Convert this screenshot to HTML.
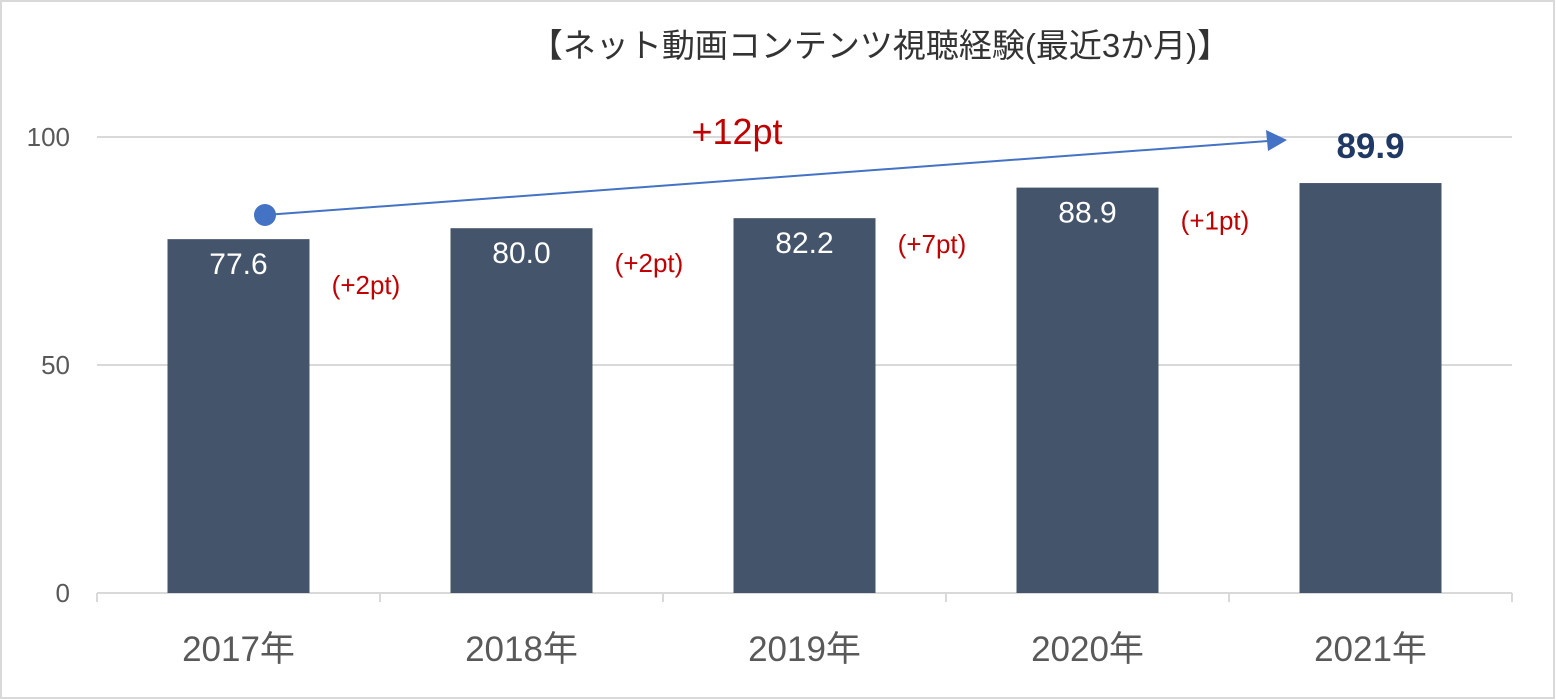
<!DOCTYPE html>
<html><head><meta charset="utf-8"><style>
html,body{margin:0;padding:0;background:#fff;}
svg{display:block;font-family:"Liberation Sans","Noto Sans CJK JP",sans-serif;}
</style></head><body>
<svg id="chart" width="1556" height="700">
<rect x="1" y="1" width="1553" height="697" fill="#fff" stroke="#d9d9d9" stroke-width="2"/>
<text x="880" y="57" font-size="33" fill="#333" text-anchor="middle">【ネット動画コンテンツ視聴経験(最近3か月)】</text>
<g id="grid"></g><g id="bars"></g><g id="labels"></g>
</svg>
<script>
const categories=["2017年","2018年","2019年","2020年","2021年"];
const values=[77.6,80.0,82.2,88.9,89.9];
const diffs=["(+2pt)","(+2pt)","(+7pt)","(+1pt)"];
const yTicks=[0,50,100];
const NS="http://www.w3.org/2000/svg";
const svg=document.getElementById('chart');
const x0=97,x1=1512,y0=593,pxPer=4.56;
const cw=(x1-x0)/categories.length,bw=142;
const diffDy=[55,44,35,42];
const y=v=>y0-v*pxPer;
const cx=i=>x0+cw*(i+0.5);
function mk(tag,attrs,parent,text){const e=document.createElementNS(NS,tag);for(const k in attrs)e.setAttribute(k,attrs[k]);if(text!==undefined)e.textContent=text;(parent||svg).appendChild(e);return e;}
const grid=document.getElementById('grid');
yTicks.forEach(t=>{
 if(t>0){const l=mk('line',{x1:x0,x2:x1,y1:y(t),y2:y(t),stroke:'#d9d9d9','stroke-width':2},grid);
 
 }
 const tx=mk('text',{x:70,y:y(t)+9,'font-size':26,fill:'#595959','text-anchor':'end'},grid,String(t));
 
 
});
const ax=mk('line',{x1:x0,x2:x1,y1:y0,y2:y0,stroke:'#d9d9d9','stroke-width':2},grid);


for(let i=0;i<=categories.length;i++){const tk=mk('line',{x1:x0+cw*i,x2:x0+cw*i,y1:y0,y2:y0+9,stroke:'#d9d9d9','stroke-width':2},grid);
 
 }
const bars=document.getElementById('bars'),labels=document.getElementById('labels');
values.forEach((v,i)=>{
 const r=mk('rect',{x:cx(i)-bw/2,y:y(v),width:bw,height:y0-y(v),fill:'#44546A'},bars);
 
 
 const last=i===values.length-1;
 const t=mk('text',{x:cx(i),y:last?y(v)-25:y(v)+35,'font-size':last?35:30,'font-weight':last?'bold':'normal',fill:last?'#1F3864':'#fff','text-anchor':'middle'},labels,v.toFixed(1));
 
 
 const c=mk('text',{x:cx(i),y:661,'font-size':35,fill:'#595959','text-anchor':'middle'},labels,categories[i]);
 
 
});
diffs.forEach((d,i)=>{
 const t=mk('text',{x:x0+cw*(i+1)-14,y:y(values[i])+diffDy[i],'font-size':26,fill:'#C00000','text-anchor':'middle'},labels,d);
 
 
});
const ln=mk('line',{x1:265,y1:215,x2:1268,y2:141,stroke:'#4472C4','stroke-width':2},labels);


const hd=mk('polygon',{points:'1287,140 1266,130 1268,151',fill:'#4472C4'},labels);


const dt=mk('circle',{cx:265,cy:215,r:11,fill:'#4472C4'},labels);


const tt=mk('text',{x:737,y:144,'font-size':36,fill:'#C00000','text-anchor':'middle'},labels,'+12pt');


</script>
</body></html>
